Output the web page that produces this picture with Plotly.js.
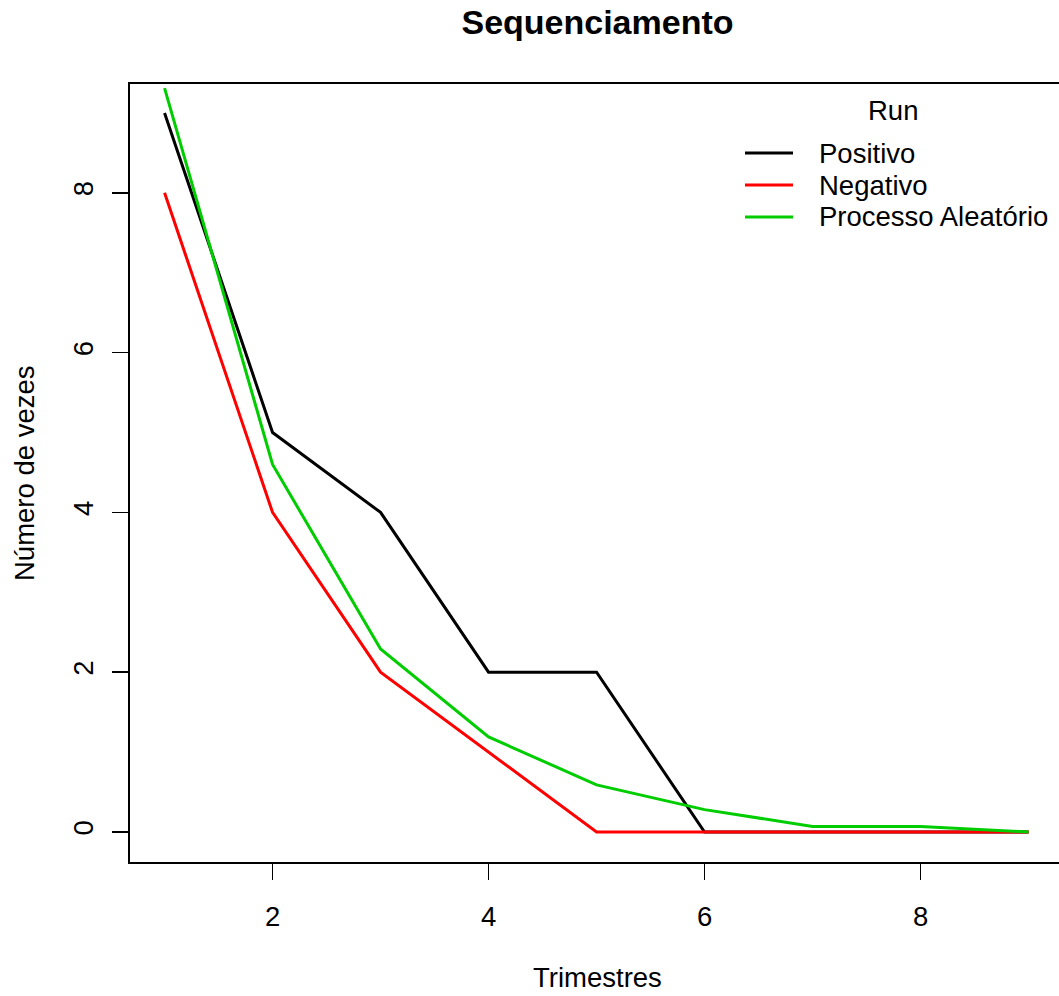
<!DOCTYPE html>
<html>
<head>
<meta charset="utf-8">
<script src="https://cdn.plot.ly/plotly-3.0.1.min.js"></script>
<style>html,body{margin:0;padding:0;background:#fff;}#chart{width:1059px;height:996px;}</style>
</head>
<body>
<div id="chart"></div>
<script>
const trimestres = [1, 2, 3, 4, 5, 6, 7, 8, 9];
const positivo = [9, 5, 4, 2, 2, 0, 0, 0, 0];
const negativo = [8, 4, 2, 1, 0, 0, 0, 0, 0];
const aleatorio = [9.31, 4.6, 2.29, 1.19, 0.59, 0.28, 0.07, 0.07, 0];
const seriesNames = ['Positivo', 'Negativo', 'Processo Aleatório'];
const seriesColors = ['#000000', '#FF0000', '#00CD00'];
const legendTitle = 'Run';
const xTicks = [2, 4, 6, 8];
const yTicks = [0, 2, 4, 6, 8];

const FONT = 'Liberation Sans, Arial, Helvetica, sans-serif';
const FS = 27.5;
const W = 1059, H = 996;
const L = 130, T = 84, B = 134, R = 0;
const plotW = W - L - R, plotH = H - T - B;
const px = p => (p - L) / plotW;
const py = p => (H - B - p) / plotH;

const seriesY = [positivo, negativo, aleatorio];
const traces = seriesY.map((ys, i) => ({
  x: trimestres, y: ys, name: seriesNames[i], mode: 'lines',
  line: {color: seriesColors[i], width: 3}, showlegend: false
}));

// legend drawn as key lines + labels (R-style legend box without border)
const legendRows = [153, 185, 217];
const legendShapes = seriesNames.map((n, i) => ({
  type: 'line', xref: 'paper', yref: 'paper',
  x0: px(745), x1: px(793), y0: py(legendRows[i]), y1: py(legendRows[i]),
  line: {color: seriesColors[i], width: 3}
}));
const legendLabels = seriesNames.map((n, i) => ({
  text: n, xref: 'paper', yref: 'paper', x: px(817), y: py(legendRows[i]),
  xanchor: 'left', yanchor: 'middle', showarrow: false,
  font: {family: FONT, size: FS, color: '#000'}
}));

const layout = {
  width: W, height: H,
  margin: {l: L, r: R, t: T, b: B, autoexpand: false},
  paper_bgcolor: '#fff', plot_bgcolor: '#fff',
  font: {family: FONT, size: FS, color: '#000'},
  showlegend: false,
  title: {
    text: '<b>Sequenciamento</b>',
    font: {family: FONT, size: 34, color: '#000'},
    xref: 'paper', x: px(597.5), xanchor: 'center',
    yref: 'container', y: 1 - 22.5 / H, yanchor: 'middle'
  },
  xaxis: {
    range: [0.68, 0.68 + plotW / 108],
    tickvals: xTicks, ticktext: xTicks.map(String),
    ticks: 'outside', ticklen: 16, tickwidth: 1.5, tickcolor: '#000',
    showline: true, mirror: true, linecolor: '#000', linewidth: 2,
    showgrid: false, zeroline: false,
    tickfont: {family: FONT, size: FS, color: '#000'},
    ticklabelstandoff: 13
  },
  yaxis: {
    range: [-0.3755, -0.3755 + plotH / 79.9],
    tickvals: yTicks, ticktext: yTicks.map(String),
    ticks: 'outside', ticklen: 16, tickwidth: 1.5, tickcolor: '#000',
    showline: true, mirror: false, linecolor: '#000', linewidth: 2,
    showgrid: false, zeroline: false,
    tickangle: -90,
    tickfont: {family: FONT, size: FS, color: '#000'},
    ticklabelstandoff: 8
  },
  shapes: legendShapes,
  annotations: [
    {text: legendTitle, xref: 'paper', yref: 'paper', x: px(893), y: py(110),
     xanchor: 'center', yanchor: 'middle', showarrow: false,
     font: {family: FONT, size: FS, color: '#000'}},
    ...legendLabels,
    {text: 'Trimestres', xref: 'paper', yref: 'paper', x: px(597.5), y: py(978),
     xanchor: 'center', yanchor: 'middle', showarrow: false,
     font: {family: FONT, size: FS, color: '#000'}},
    {text: 'Número de vezes', xref: 'paper', yref: 'paper', x: px(24), y: py(473),
     xanchor: 'center', yanchor: 'middle', showarrow: false, textangle: -90,
     font: {family: FONT, size: FS, color: '#000'}}
  ]
};

Plotly.newPlot('chart', traces, layout, {displayModeBar: false, staticPlot: true});
</script>
</body>
</html>
